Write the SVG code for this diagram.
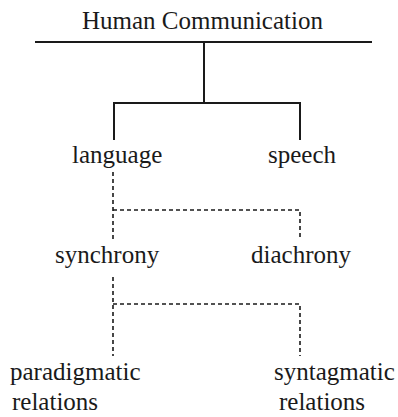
<svg xmlns="http://www.w3.org/2000/svg" width="398" height="417" viewBox="0 0 398 417">
<style>
.s{stroke:#1a1a1a;stroke-width:2;fill:none}
.d{stroke:#1a1a1a;stroke-width:1.6;fill:none;stroke-dasharray:4 3}
</style>
<rect width="398" height="417" fill="#fff"/>
<g id="connectors">
<line class="s" x1="35" y1="42" x2="372" y2="42"/>
<line class="s" x1="204" y1="42" x2="204" y2="103"/>
<polyline class="s" points="114,140 114,103 300,103 300,140"/>
<line class="d" x1="113" y1="172" x2="113" y2="240"/>
<polyline class="d" points="113,210 300,210 300,240"/>
<line class="d" x1="113" y1="277" x2="113" y2="356"/>
<polyline class="d" points="113,304 300,304 300,356"/>
</g>
<g font-family="Liberation Serif, DejaVu Serif, serif" font-size="25" fill="#1a1a1a">
<g id="human-communication"><text x="82" y="29">Human Communication</text></g>
<g id="language"><text x="72" y="163">language</text></g>
<g id="speech"><text x="268" y="163">speech</text></g>
<g id="synchrony"><text x="55" y="263">synchrony</text></g>
<g id="diachrony"><text x="251" y="263">diachrony</text></g>
<g id="paradigmatic"><text x="10" y="380">paradigmatic</text><text x="12" y="410">relations</text></g>
<g id="syntagmatic"><text x="274" y="380">syntagmatic</text><text x="279" y="410">relations</text></g>
</g>
</svg>
